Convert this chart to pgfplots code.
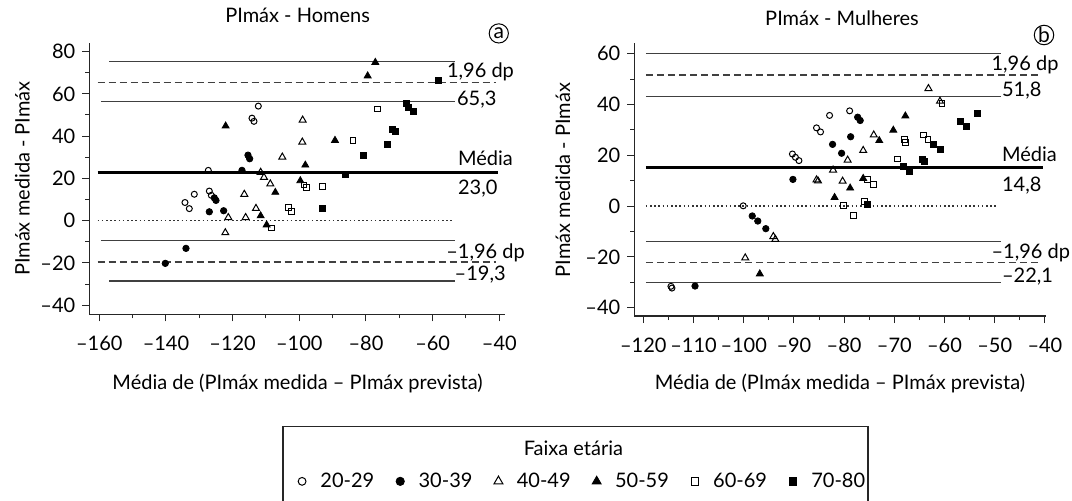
\documentclass[border=0pt]{standalone}
\usepackage{fontspec}
\setmainfont{Lato}
\usepackage{pgfplots}
\pgfplotsset{compat=1.18}

\pgfplotsset{
  bland/.style={
    scale only axis, clip=false,
    axis x line*=bottom, axis y line*=left,
    tick align=outside, major tick length=3.5pt, minor tick length=2pt,
    axis line style={line width=0.6pt, black!85},
    every tick/.style={black!85, line width=0.5pt},
    minor x tick num=1, minor y tick num=1,
    tick label style={font=\fontsize{10}{12}\selectfont},
    xticklabel style={yshift=-4pt},
  },
  refsolid/.style={forget plot, no markers, black!75, line width=0.6pt},
  refdash/.style={forget plot, no markers, black!75, line width=0.6pt, dash pattern=on 3.5pt off 2pt},
  refdot/.style={forget plot, no markers, black!80, line width=0.6pt, dash pattern=on 0.8pt off 1.3pt},
  refmean/.style={forget plot, no markers, black, line width=1.5pt},
  ga/.style={only marks, black, mark=o, mark size=1.5pt, mark options={line width=0.5pt}},
  gb/.style={only marks, black, mark=*, mark size=1.6pt},
  gc/.style={only marks, black, mark=triangle, mark size=2pt, mark options={line width=0.5pt}},
  gd/.style={only marks, black, mark=triangle*, mark size=2pt},
  ge/.style={only marks, black, mark=square, mark size=1.45pt, mark options={line width=0.5pt}},
  gf/.style={only marks, black, mark=square*, mark size=1.5pt},
  legend image code/.code={\draw[#1, every mark/.append style={scale=1.3}] plot coordinates {(0pt,0pt)};
    \path[draw=none] (-2.2pt,0pt) -- (7.2pt,0pt);},
}

\begin{document}
\begin{tikzpicture}
\useasboundingbox (0,0) rectangle (536pt,250pt);

% (a) homens
\begin{axis}[bland,
  at={(44.65pt,92.85pt)}, anchor=south west,
  width=207.85pt, height=135.8pt,
  xmin=-163, xmax=-38.3, ymin=-44.3, ymax=84.2,
  xtick={-160,-140,...,-40}, xticklabels={–160,–140,–120,–100,–80,–60,–40},
  ytick={-40,-20,...,80}, yticklabels={–40,–20,0,20,40,60,80},
  legend columns=6,
  legend style={at={(axis description cs:0.4859,-0.615)}, anchor=west,
    draw=none, fill=none, font=\fontsize{10}{12}\selectfont,
    /tikz/every even column/.append style={column sep=8.75pt}},
]
\addplot[refsolid] coordinates {(-157,75.2) (-53.3,75.2)};
\addplot[refdash] coordinates {(-160.5,65.3) (-41,65.3)};
\addplot[refsolid] coordinates {(-159.5,56.3) (-53.3,56.3)};
\addplot[refmean] coordinates {(-160.5,23.0) (-40.5,23.0)};
\addplot[refdot] coordinates {(-160.5,0) (-53.5,0)};
\addplot[refsolid] coordinates {(-159.5,-9.2) (-53.3,-9.2)};
\addplot[refdash] coordinates {(-160.5,-19.6) (-41,-19.6)};
\addplot[refsolid] coordinates {(-157,-28.5) (-53.3,-28.5)};

\addplot[ga] coordinates {(-112.3,54.2) (-114.2,48.5) (-113.6,47.0) (-127.3,23.8) (-127.0,14.0)
  (-126.4,12.0) (-131.5,12.5) (-134.3,8.6) (-133.0,5.7)};
\addplot[gb] coordinates {(-140.2,-20.2) (-134.0,-13.1) (-127.0,4.2) (-122.7,4.7) (-125.5,10.8)
  (-125.0,9.6) (-117.2,23.8) (-115.4,31.0) (-114.9,29.3)};
\addplot[gc] coordinates {(-99.0,47.6) (-99.1,37.2) (-105.1,30.1) (-111.6,22.9) (-110.6,20.5)
  (-108.7,17.4) (-116.5,12.5) (-113.0,5.8) (-121.3,1.5) (-116.1,1.5) (-122.2,-5.7)};
\addplot[gd] coordinates {(-77.2,74.9) (-79.5,68.5) (-122.1,44.8) (-89.3,38.0) (-98.2,26.3)
  (-99.7,18.9) (-107.2,13.4) (-111.6,2.3) (-109.8,-2.0)};
\addplot[ge] coordinates {(-76.5,52.8) (-83.9,37.8) (-98.6,16.9) (-97.9,15.7) (-93.0,16.1)
  (-103.2,6.1) (-102.4,4.3) (-108.4,-3.5)};
\addplot[gf] coordinates {(-58.4,66.2) (-68.0,55.6) (-67.2,53.7) (-65.8,51.5) (-72.0,43.3)
  (-71.2,42.3) (-73.6,36.2) (-80.8,31.1) (-86.2,22.1) (-93.0,5.8)};
\legend{20-29, 30-39, 40-49, 50-59, 60-69, 70-80}

\node[anchor=base west, inner sep=0pt, font=\fontsize{10}{12}\selectfont] at (axis cs:-55.8,67.6) {1,96 dp};
\node[anchor=base west, inner sep=0pt, font=\fontsize{10}{12}\selectfont] at (axis cs:-52.8,54.5) {65,3};
\node[anchor=base west, inner sep=0pt, font=\fontsize{10}{12}\selectfont] at (axis cs:-52.5,26.3) {Média};
\node[anchor=base west, inner sep=0pt, font=\fontsize{10}{12}\selectfont] at (axis cs:-52.5,12.6) {23,0};
\node[anchor=base west, inner sep=0pt, font=\fontsize{10}{12}\selectfont] at (axis cs:-56.0,-17.8) {–1,96 dp};
\node[anchor=base west, inner sep=0pt, font=\fontsize{10}{12}\selectfont] at (axis cs:-53.5,-28.5) {–19,3};
\end{axis}

% (b) mulheres
\begin{axis}[bland,
  at={(317.15pt,92pt)}, anchor=south west,
  width=206.05pt, height=136.35pt,
  xmin=-121.8, xmax=-39.7, ymin=-43.3, ymax=64.1,
  xtick={-120,-110,...,-40}, xticklabels={–120,–110,–100,–90,–80,–70,–60,–50,–40},
  ytick={-40,-20,...,60}, yticklabels={–40,–20,0,20,40,60},
]
\addplot[refsolid] coordinates {(-119.5,60.1) (-48.8,60.1)};
\addplot[refdash] coordinates {(-119.5,51.6) (-40.7,51.6)};
\addplot[refsolid] coordinates {(-119.5,43.3) (-48.8,43.3)};
\addplot[refmean] coordinates {(-119.5,15.0) (-40.3,15.0)};
\addplot[refdot] coordinates {(-119.5,0) (-49.3,0)};
\addplot[refsolid] coordinates {(-119.5,-14.0) (-48.8,-14.0)};
\addplot[refdash] coordinates {(-119.5,-22.2) (-40.7,-22.2)};
\addplot[refsolid] coordinates {(-119.5,-30.2) (-48.8,-30.2)};

\addplot[ga] coordinates {(-114.5,-31.6) (-114.3,-32.3) (-100.1,0.1) (-90.3,20.5) (-89.7,19.2)
  (-89.0,17.9) (-85.5,30.8) (-84.7,29.2) (-82.9,35.7) (-78.9,37.5)};
\addplot[gb] coordinates {(-109.7,-31.5) (-98.3,-3.9) (-97.2,-5.9) (-95.6,-8.9) (-90.2,10.5)
  (-82.3,24.3) (-80.5,20.8) (-78.7,27.3) (-77.3,35.0) (-76.8,33.7)};
\addplot[gc] coordinates {(-63.2,46.3) (-60.9,41.3) (-76.2,21.9) (-79.3,18.1) (-82.2,14.2)
  (-74.1,28.0) (-85.5,10.3) (-85.2,9.9) (-80.3,9.8) (-94.1,-12.0) (-93.7,-13.1) (-99.7,-20.4)};
\addplot[gd] coordinates {(-67.8,35.5) (-70.2,29.9) (-73.0,25.8) (-81.9,3.4) (-78.8,7.1)
  (-96.8,-26.7) (-76.2,10.9)};
\addplot[ge] coordinates {(-60.5,40.5) (-64.2,28.0) (-63.3,26.1) (-68.0,26.1) (-67.7,24.9)
  (-69.4,18.5) (-75.3,10.6) (-74.1,8.4) (-76.0,1.9) (-80.2,0.1) (-78.1,-3.7)};
\addplot[gf] coordinates {(-53.5,36.6) (-56.9,33.5) (-55.7,31.2) (-62.2,24.3) (-60.9,22.2)
  (-64.5,18.5) (-64.0,17.6) (-68.1,15.6) (-67.0,13.5) (-75.3,0.6)};

\node[anchor=base west, inner sep=0pt, font=\fontsize{10}{12}\selectfont] at (axis cs:-50.7,53.3) {1,96 dp};
\node[anchor=base west, inner sep=0pt, font=\fontsize{10}{12}\selectfont] at (axis cs:-48.6,43.3) {51,8};
\node[anchor=base west, inner sep=0pt, font=\fontsize{10}{12}\selectfont] at (axis cs:-48.6,17.5) {Média};
\node[anchor=base west, inner sep=0pt, font=\fontsize{10}{12}\selectfont] at (axis cs:-48.6,5.6) {14,8};
\node[anchor=base west, inner sep=0pt, font=\fontsize{10}{12}\selectfont] at (axis cs:-50.7,-20.6) {–1,96 dp};
\node[anchor=base west, inner sep=0pt, font=\fontsize{10}{12}\selectfont] at (axis cs:-48.6,-30.2) {–22,1};
\end{axis}

% titles, labels, panel letters
\begin{scope}[font=\fontsize{10}{12}\selectfont]
\node[anchor=base] at (148.8pt,238.6pt) {PImáx - Homens};
\node[anchor=base] at (421pt,237.5pt) {PImáx - Mulheres};
\node[circle, draw, line width=0.5pt, inner sep=0pt, minimum size=9.6pt, font=\fontsize{10.5}{12}\selectfont] at (249.4pt,233.3pt) {a};
\node[circle, draw, line width=0.5pt, inner sep=0pt, minimum size=9.6pt, font=\fontsize{10.5}{12}\selectfont] at (522pt,232.5pt) {b};
\node[rotate=90] at (11.2pt,160.7pt) {PImáx medida - PImáx};
\node[rotate=90] at (281.4pt,160pt) {PImáx medida - PImáx};
\node at (148.8pt,58.5pt) {Média de (PImáx medida – PImáx prevista)};
\node at (420pt,58.5pt) {Média de (PImáx medida – PImáx prevista)};
\node at (286.7pt,25.85pt) {Faixa etária};
\end{scope}
\draw[line width=0.6pt, black!85] (141.5pt,-2pt) -- (141.5pt,36.65pt) -- (434pt,36.65pt) -- (434pt,-2pt);
\end{tikzpicture}
\end{document}
